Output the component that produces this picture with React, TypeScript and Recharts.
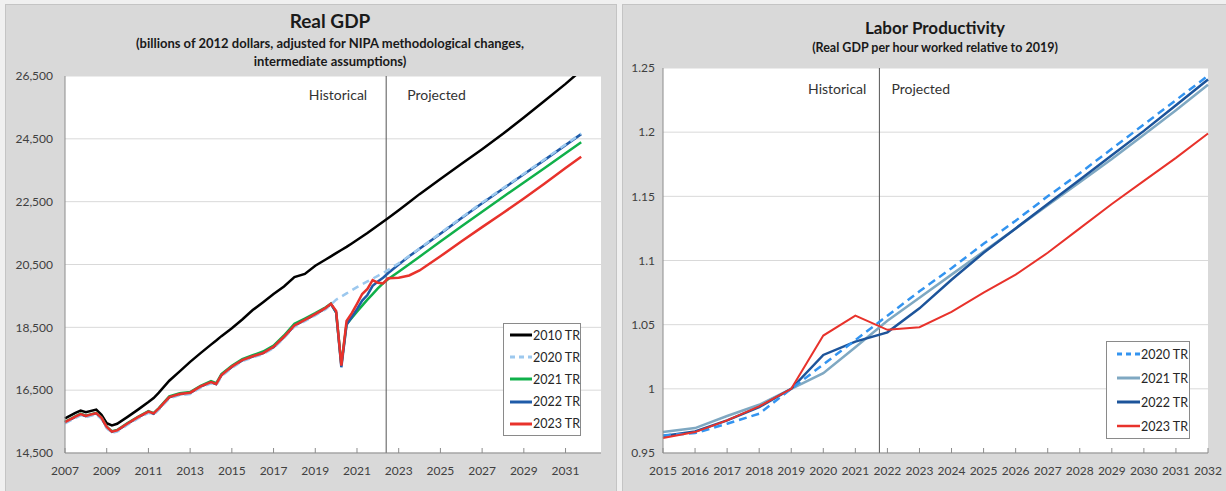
import { CartesianGrid, Legend, Line, LineChart, ReferenceLine, XAxis, YAxis } from 'recharts';

const FONT = 'Lato, "Open Sans", sans-serif';

// ---- Real GDP (billions of 2012 dollars) ----
const gdpX = [
  2007, 2007.5, 2007.75, 2008, 2008.5, 2008.75, 2009, 2009.25, 2009.5, 2010,
  2010.5, 2011, 2011.25, 2011.5, 2012, 2012.5, 2013, 2013.5, 2014, 2014.25,
  2014.5, 2015, 2015.5, 2016, 2016.5, 2017, 2017.5, 2018, 2018.5, 2019,
  2019.5, 2019.75, 2020, 2020.25, 2020.5, 2020.75, 2021, 2021.25, 2021.5, 2021.75,
  2022, 2022.25, 2022.5, 2023, 2023.5, 2024, 2025, 2026, 2027, 2028,
  2029, 2030, 2031, 2031.75,
];
const gdp2010 = [
  15600, 15780, 15850, 15800, 15880, 15720, 15450, 15380, 15430, 15650,
  15880, 16120, 16250, 16420, 16800, 17100, 17400, 17680, 17950, 18080,
  18220, 18470, 18750, 19050, 19300, 19560, 19800, 20100, 20200, 20460,
  20660, 20760, 20860, 20960, 21060, 21170, 21280, 21390, 21500, 21620,
  21740, 21860, 21980, 22230, 22480, 22740, 23220, 23700, 24170, 24660,
  25180, 25710, 26250, 26680,
];
const gdp2020 = [
  15440, 15620, 15700, 15640, 15730, 15580, 15290, 15140, 15180, 15400,
  15600, 15780, 15720, 15880, 16240, 16340, 16380, 16580, 16720, 16660,
  16940, 17210, 17420, 17540, 17650, 17840, 18160, 18520, 18700, 18880,
  19080, 19220, 19380, 19480, 19580, 19680, 19780, 19870, 19960, 20050,
  20140, 20230, 20330, 20540, 20770, 21010, 21500, 21990, 22470, 22930,
  23390, 23850, 24320, 24670,
];
const gdp2021 = [
  15490, 15670, 15750, 15690, 15780, 15630, 15340, 15190, 15230, 15450,
  15650, 15830, 15770, 15930, 16300, 16400, 16440, 16640, 16790, 16720,
  17010, 17280, 17490, 17610, 17730, 17920, 18240, 18610, 18780, 18950,
  19140, 19260, 18970, 17320, 18600, 18800, 19000, 19190, 19380, 19560,
  19740, 19900, 20040, 20270, 20510, 20750, 21230, 21710, 22180, 22650,
  23110, 23570, 24040, 24390,
];
const gdp2022 = [
  15470, 15650, 15730, 15670, 15760, 15610, 15320, 15170, 15210, 15430,
  15630, 15810, 15750, 15910, 16270, 16370, 16410, 16610, 16750, 16690,
  16970, 17240, 17450, 17570, 17680, 17870, 18190, 18550, 18730, 18910,
  19110, 19240, 18980, 17230, 18580, 18830, 19080, 19350, 19530, 19820,
  19960, 20080, 20230, 20500, 20760, 21000, 21480, 21970, 22450, 22910,
  23370, 23830, 24300, 24650,
];
const gdp2023 = [
  15480, 15660, 15740, 15680, 15770, 15620, 15330, 15180, 15220, 15440,
  15640, 15820, 15760, 15920, 16280, 16380, 16420, 16620, 16760, 16700,
  16980, 17250, 17460, 17580, 17680, 17880, 18200, 18560, 18740, 18920,
  19120, 19250, 19020, 17280, 18700, 18950, 19250, 19560, 19720, 20000,
  19920, 19900, 20060, 20080, 20150, 20310, 20760, 21230, 21690, 22140,
  22600, 23080, 23570, 23930,
];
const gdpXTicks = [2007, 2009, 2011, 2013, 2015, 2017, 2019, 2021, 2023, 2025, 2027, 2029, 2031];
const gdpYTicks = [14500, 16500, 18500, 20500, 22500, 24500, 26500];

// ---- Labor productivity (relative to 2019) ----
const prodYears = [2015, 2016, 2017, 2018, 2019, 2020, 2021, 2022, 2023, 2024, 2025, 2026, 2027, 2028, 2029, 2030, 2031, 2032];
const prod2020 = [0.9637, 0.9655, 0.9728, 0.9806, 1.0, 1.019, 1.038, 1.057, 1.076, 1.094, 1.113, 1.131, 1.15, 1.168, 1.187, 1.206, 1.225, 1.244];
const prod2021 = [0.9663, 0.9694, 0.9788, 0.9876, 1.0, 1.0122, 1.0324, 1.053, 1.071, 1.089, 1.107, 1.125, 1.143, 1.161, 1.179, 1.198, 1.217, 1.237];
const prod2022 = [0.9632, 0.9668, 0.9754, 0.9858, 1.0, 1.0264, 1.0368, 1.044, 1.0627, 1.085, 1.106, 1.125, 1.144, 1.163, 1.182, 1.201, 1.221, 1.241];
const prod2023 = [0.9617, 0.9663, 0.9754, 0.9863, 1.0, 1.0415, 1.057, 1.046, 1.048, 1.06, 1.075, 1.089, 1.106, 1.125, 1.144, 1.162, 1.18, 1.199];
const prodYTicks = [0.95, 1, 1.05, 1.1, 1.15, 1.2, 1.25];

const gdpData = gdpX.map((x, i) => ({
  x, tr2010: gdp2010[i], tr2020: gdp2020[i], tr2021: gdp2021[i], tr2022: gdp2022[i], tr2023: gdp2023[i],
}));
const prodData = prodYears.map((x, i) => ({
  x, tr2020: prod2020[i], tr2021: prod2021[i], tr2022: prod2022[i], tr2023: prod2023[i],
}));

type Series = { key: string; name: string; color: string; width: number; dash?: string };

const gdpSeries: Series[] = [
  { key: 'tr2010', name: '2010 TR', color: '#000000', width: 2.5 },
  { key: 'tr2021', name: '2021 TR', color: '#10b04a', width: 2.5 },
  { key: 'tr2022', name: '2022 TR', color: '#1f5ba8', width: 2.5 },
  { key: 'tr2020', name: '2020 TR', color: '#9cc8ee', width: 2.5, dash: '7 5' },
  { key: 'tr2023', name: '2023 TR', color: '#e8322b', width: 2.5 },
];
const gdpLegendOrder = ['tr2010', 'tr2020', 'tr2021', 'tr2022', 'tr2023'];

const prodSeries: Series[] = [
  { key: 'tr2021', name: '2021 TR', color: '#7fa8c2', width: 2.5 },
  { key: 'tr2022', name: '2022 TR', color: '#1d549a', width: 2.5 },
  { key: 'tr2020', name: '2020 TR', color: '#3394f0', width: 2.5, dash: '8 5' },
  { key: 'tr2023', name: '2023 TR', color: '#e8322b', width: 2 },
];
const prodLegendOrder = ['tr2020', 'tr2021', 'tr2022', 'tr2023'];

const SplitLabel = (props: any) => {
  const { viewBox, gapL, gapR, dy } = props;
  if (!viewBox) return null;
  return (
    <g fontFamily={FONT} fontSize={14} fill="#333">
      <text x={viewBox.x - gapL} y={viewBox.y + dy} textAnchor="end">Historical</text>
      <text x={viewBox.x + gapR} y={viewBox.y + dy} textAnchor="start">Projected</text>
    </g>
  );
};

const LegendBox = ({ series, order, rowH, padL, width }: { series: Series[]; order: string[]; rowH: number; padL: number; width: number }) => (
  <div style={{ border: '1px solid #8a8a8a', background: '#fff', width, boxSizing: 'border-box', paddingLeft: padL, fontFamily: FONT }}>
    {order.map((k) => {
      const s = series.find((d) => d.key === k)!;
      return (
        <div key={k} style={{ display: 'flex', alignItems: 'center', height: rowH }}>
          <svg width={23} height={6}>
            <line x1={0} x2={23} y1={3} y2={3} stroke={s.color} strokeWidth={s.width + 0.5} strokeDasharray={s.dash ? '5 4' : undefined} />
          </svg>
          <span style={{ fontSize: 12.5, color: '#262626', marginLeft: 1, whiteSpace: 'nowrap' }}>{s.name}</span>
        </div>
      );
    })}
  </div>
);

const tickStyle = { fontSize: 12, fill: '#404040', fontFamily: FONT };

const Title = ({ cx, top, size, children }: { cx: number; top: number; size: number; children: React.ReactNode }) => (
  <div style={{ position: 'absolute', left: cx - 300, top, width: 600, textAlign: 'center', fontFamily: FONT, fontWeight: 700, fontSize: size, color: '#1a1a1a', lineHeight: `${size + 4}px` }}>
    {children}
  </div>
);

export default function App() {
  return (
    <div style={{ position: 'absolute', left: 0, top: 0, width: 1226, height: 491, background: '#f0f0f0', overflow: 'hidden' }}>
      <div style={{ position: 'absolute', left: 5, top: 4, width: 612, height: 492, background: '#d9d9d9', border: '1px solid #c4c4c4', boxSizing: 'border-box' }} />
      <div style={{ position: 'absolute', left: 622, top: 4, width: 606, height: 492, background: '#d9d9d9', border: '1px solid #c4c4c4', boxSizing: 'border-box' }} />

      <Title cx={330} top={9} size={19}>Real GDP</Title>
      <Title cx={330} top={35} size={13}>(billions of 2012 dollars, adjusted for NIPA methodological changes,</Title>
      <Title cx={330} top={53} size={13}>intermediate assumptions)</Title>
      <Title cx={935} top={17} size={17}>Labor Productivity</Title>
      <Title cx={935} top={40} size={12.5}>(Real GDP per hour worked relative to 2019)</Title>

      <div style={{ position: 'absolute', left: 0, top: 0 }}>
        <LineChart width={617} height={491} data={gdpData} margin={{ top: 76, right: 16, bottom: 8, left: 5 }}>
          <CartesianGrid vertical={false} stroke="#d9d9d9" fill="#ffffff" fillOpacity={1} />
          <XAxis type="number" dataKey="x" domain={[2007, 2032.7]} ticks={gdpXTicks} interval={0} height={30}
            tick={tickStyle} tickSize={-5} tickMargin={18} stroke="#8c8c8c" />
          <YAxis type="number" domain={[14500, 26500]} ticks={gdpYTicks} allowDataOverflow width={60} tickLine={false}
            tickMargin={6} tick={tickStyle} stroke="#8c8c8c" tickFormatter={(v: number) => v.toLocaleString('en-US')} />
          <ReferenceLine x={2022.4} stroke="#555" strokeWidth={1} label={<SplitLabel gapL={19} gapR={21} dy={24} />} />
          {gdpSeries.map((s) => (
            <Line key={s.key} type="linear" dataKey={s.key} name={s.name} stroke={s.color} strokeWidth={s.width}
              strokeDasharray={s.dash} dot={false} activeDot={false} isAnimationActive={false} />
          ))}
          <Legend layout="vertical" align="center" verticalAlign="middle"
            wrapperStyle={{ left: 503, top: 323, width: 78 }}
            content={() => <LegendBox series={gdpSeries} order={gdpLegendOrder} rowH={22.2} padL={6} width={78} />} />
        </LineChart>
      </div>

      <div style={{ position: 'absolute', left: 620, top: 0 }}>
        <LineChart width={606} height={491} data={prodData} margin={{ top: 68, right: 18, bottom: 8, left: 5 }}>
          <CartesianGrid vertical={false} stroke="#d9d9d9" fill="#ffffff" fillOpacity={1} />
          <XAxis type="number" dataKey="x" domain={[2015, 2032]} ticks={prodYears} interval={0} height={30}
            tick={tickStyle} tickSize={-5} tickMargin={18} stroke="#8c8c8c" />
          <YAxis type="number" domain={[0.95, 1.25]} ticks={prodYTicks} allowDataOverflow width={38} tickLine={false}
            tick={tickStyle} stroke="#8c8c8c" />
          <ReferenceLine x={2021.75} stroke="#555" strokeWidth={1} label={<SplitLabel gapL={13} gapR={12} dy={26} />} />
          {prodSeries.map((s) => (
            <Line key={s.key} type="linear" dataKey={s.key} name={s.name} stroke={s.color} strokeWidth={s.width}
              strokeDasharray={s.dash} dot={false} activeDot={false} isAnimationActive={false} />
          ))}
          <Legend layout="vertical" align="center" verticalAlign="middle"
            wrapperStyle={{ left: 486, top: 341, width: 84 }}
            content={() => <LegendBox series={prodSeries} order={prodLegendOrder} rowH={24} padL={10} width={84} />} />
        </LineChart>
      </div>
    </div>
  );
}
